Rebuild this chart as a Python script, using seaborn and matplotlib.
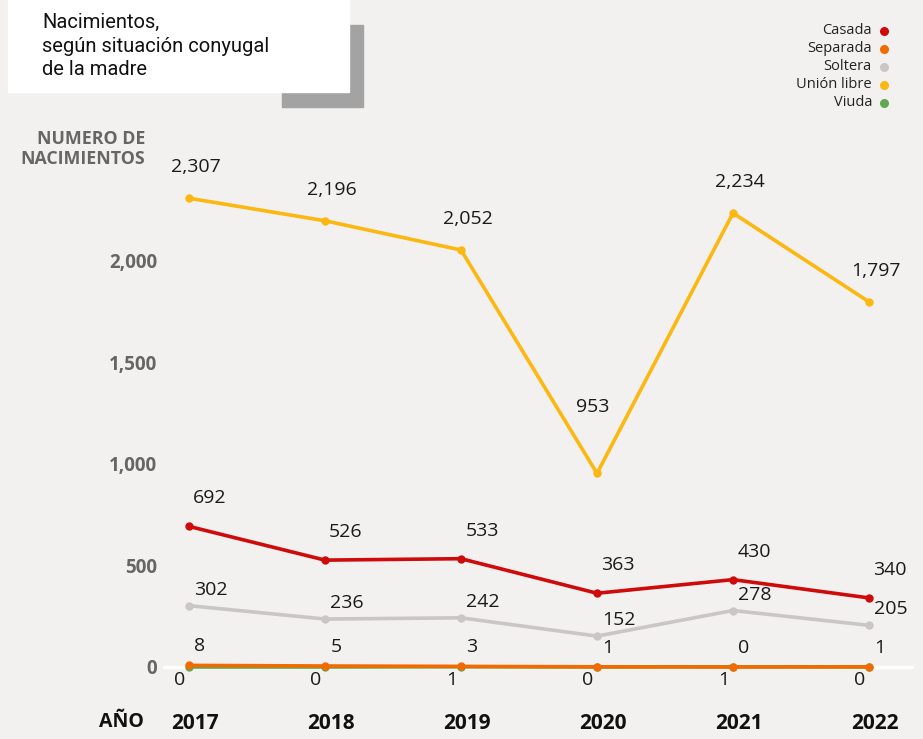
import matplotlib
matplotlib.use("Agg")
import matplotlib.pyplot as plt
import matplotlib.patches as mpatches
from matplotlib.transforms import ScaledTranslation
import numpy as np
import pandas as pd
import seaborn as sns

# data
years = [2017, 2018, 2019, 2020, 2021, 2022]
casada = [692, 526, 533, 363, 430, 340]
separada = [8, 5, 3, 1, 0, 1]
soltera = [302, 236, 242, 152, 278, 205]
union_libre = [2307, 2196, 2052, 953, 2234, 1797]
viuda = [0, 0, 1, 0, 1, 0]
y_ticks = [0, 500, 1000, 1500, 2000]

series = {
    "Casada": casada,
    "Separada": separada,
    "Soltera": soltera,
    "Unión libre": union_libre,
    "Viuda": viuda,
}
colors = {
    "Casada": "#cf0a0a",
    "Separada": "#f26a00",
    "Soltera": "#c9c6c4",
    "Unión libre": "#fcb711",
    "Viuda": "#5fa84f",
}

df = pd.DataFrame(
    [(y, name, v) for name, vals in series.items() for y, v in zip(years, vals)],
    columns=["Año", "Situación", "Nacimientos"],
)

sns.set_theme(style="white")
plt.rcParams["font.family"] = ["Open Sans", "DejaVu Sans"]

bg = "#f2f1f0"
W, H = 923, 739
fig = plt.figure(figsize=(W / 100, H / 100), dpi=100, facecolor=bg)

# axes placed in pixel terms: x from 164 to 912, y=0 at 667 px from top
y0_px = 667
px_per_unit = 101.6 / 500
ymax = 2500
ax = fig.add_axes([164 / W, (H - y0_px) / H, (912 - 164) / W, ymax * px_per_unit / H])
ax.set_facecolor(bg)

# white baseline
ax.axhline(0, color="white", lw=2.5, zorder=1)

draw_order = ["Viuda", "Soltera", "Casada", "Separada", "Unión libre"]
sns.lineplot(
    data=df, x="Año", y="Nacimientos", hue="Situación", hue_order=draw_order,
    palette=colors, marker="o", markersize=6, markeredgewidth=0,
    linewidth=2.6, legend=False, ax=ax, zorder=3,
)
for ln in ax.lines:
    ln.set_clip_on(False)

ax.set_xlim(2017 - 0.184, 2022 + 0.316)
ax.set_ylim(0, ymax)
for s in ax.spines.values():
    s.set_visible(False)
ax.set_xlabel("")
ax.set_ylabel("")

ax.set_yticks(y_ticks)
ax.set_yticklabels([f"{t:,}" for t in y_ticks], fontsize=13.5, fontweight="bold", color="#666666")
ax.tick_params(axis="y", length=0, pad=5)

ax.set_xticks(years)
ax.set_xticklabels([str(y) for y in years], fontsize=15, fontweight="bold", color="#111111")
ax.tick_params(axis="x", length=0, pad=33)
for lbl in ax.get_xticklabels():
    lbl.set_transform(lbl.get_transform() + ScaledTranslation(6 / 100, 0, fig.dpi_scale_trans))

# value labels (pixel offsets of label centre from the point)
offsets = {
    "Unión libre": (7, 31),
    "Casada": (21, 28),
    "Soltera": (22, 16),
    "Separada": (11, 19),
    "Viuda": (-9, -13),
}
for name, vals in series.items():
    dx, dy = offsets[name]
    for x, v in zip(years, vals):
        ddx, ddy = dx, dy
        if name == "Unión libre" and v == min(vals):
            ddx, ddy = -4, 66
        ax.annotate(f"{v:,}", (x, v), xytext=(ddx, ddy), textcoords="offset pixels",
                    ha="center", va="center", fontsize=14, color="#1a1a1a",
                    annotation_clip=False, zorder=5)

# axis titles
fig.text(145 / W, 1 - 149 / H, "NUMERO DE\nNACIMIENTOS", ha="right", va="center",
         fontsize=12.8, fontweight="bold", color="#666666", linespacing=1.2)
fig.text(144 / W, 1 - 722 / H, "AÑO", ha="right", va="center",
         fontsize=14, fontweight="bold", color="#111111")

# title box
fig.patches.append(mpatches.Rectangle((282 / W, 1 - 107 / H), 81 / W, 82 / H,
                                      transform=fig.transFigure, color="#a3a3a3", zorder=0))
fig.patches.append(mpatches.Rectangle((8 / W, 1 - 92 / H), 341 / W, 92 / H,
                                      transform=fig.transFigure, color="white", zorder=1))
fig.text(42 / W, 1 - 46 / H, "Nacimientos,\nsegún situación conyugal\nde la madre",
         ha="left", va="center", fontsize=14.5, color="#111111",
         family=["Roboto", "DejaVu Sans"], linespacing=1.32)

# legend
for i, name in enumerate(series):
    yy = 1 - (31 + 18 * i) / H
    fig.text(872 / W, yy, name, ha="right", va="center", fontsize=10.5, color="#222222")
    fig.lines.append(plt.Line2D([884 / W], [yy], marker="o", markersize=6.5, markeredgewidth=0,
                                color=colors[name], transform=fig.transFigure))

fig.savefig("out.png", dpi=100, facecolor=bg)
